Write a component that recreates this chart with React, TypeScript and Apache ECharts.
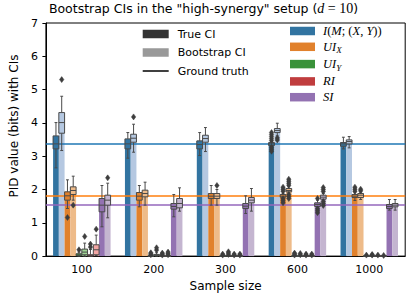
import React, { useEffect, useRef } from 'react';
import * as echarts from 'echarts';

const FONT = 'DejaVu Sans';
const MATH = 'Liberation Serif';

const categories = ['100', '200', '300', '600', '1000'];
const componentNames = ['I(M;(X,Y))', 'UI_X', 'UI_Y', 'RI', 'SI'];
const groundTruth = [3.36, 1.82, 0, 0, 1.53];
const yTicks = [0, 7, 1];

// box statistics per sample size: [low whisker, q1, median, q3, high whisker]
const trueI = [[2.65, 3.22, 3.37, 3.61, 4.01], [2.94, 3.22, 3.37, 3.52, 3.71], [3.02, 3.22, 3.35, 3.46, 3.71], [3.3, 3.32, 3.37, 3.41, 3.44], [3.22, 3.3, 3.37, 3.41, 3.57]];
const bootI = [[3.17, 3.69, 4.01, 4.31, 4.8], [3.12, 3.42, 3.54, 3.66, 3.96], [3.14, 3.42, 3.53, 3.63, 3.86], [3.61, 3.71, 3.77, 3.83, 3.99], [3.25, 3.37, 3.44, 3.49, 3.59]];
const trueUIX = [[1.43, 1.68, 1.81, 1.93, 2.29], [1.48, 1.68, 1.8, 1.91, 2.12], [1.53, 1.73, 1.8, 1.88, 2.12], [1.74, 1.77, 1.8, 1.85, 1.88], [1.67, 1.76, 1.8, 1.85, 1.9]];
const bootUIX = [[1.68, 1.85, 1.97, 2.08, 2.4], [1.53, 1.78, 1.88, 1.98, 2.22], [1.53, 1.73, 1.8, 1.88, 2.0], [1.9, 1.93, 1.97, 2.03, 2.08], [1.7, 1.76, 1.83, 1.88, 1.92]];
const trueUIY = [[0, 0.01, 0.03, 0.07, 0.12], [0, 0, 0, 0.01, 0.02], [0, 0, 0, 0.01, 0.02], [0, 0, 0, 0.01, 0.02], [0, 0, 0, 0.01, 0.02]];
const bootUIY = [[0, 0.04, 0.12, 0.21, 0.39], [0, 0.02, 0.03, 0.05, 0.1], [0, 0, 0.01, 0.02, 0.04], [0, 0, 0, 0.01, 0.02], [0, 0, 0, 0.01, 0.02]];
const trueRI = [[0, 0, 0.01, 0.04, 0.2], [0, 0, 0, 0.01, 0.02], [0, 0, 0, 0.01, 0.02], [0, 0, 0, 0.01, 0.02], [0, 0, 0, 0.01, 0.02]];
const bootRI = [[0.02, 0.04, 0.19, 0.34, 0.63], [0, 0, 0, 0.01, 0.02], [0, 0, 0, 0.01, 0.02], [0, 0, 0, 0.01, 0.02], [0, 0, 0, 0.01, 0.02]];
const trueSI = [[0.88, 1.33, 1.53, 1.73, 2.12], [1.18, 1.41, 1.49, 1.58, 1.85], [1.28, 1.43, 1.5, 1.58, 1.81], [1.47, 1.49, 1.55, 1.6, 1.68], [1.38, 1.43, 1.49, 1.55, 1.7]];
const bootSI = [[1.15, 1.53, 1.68, 1.83, 2.19], [1.35, 1.45, 1.58, 1.73, 2.05], [1.35, 1.6, 1.68, 1.76, 2.03], [1.68, 1.71, 1.77, 1.83, 1.88], [1.38, 1.48, 1.53, 1.58, 1.7]];

// outliers per sample size
const trueIOut = [[], [], [], [3.47, 3.53, 3.59, 3.65, 3.71, 3.27, 3.21, 3.15], []];
const bootIOut = [[5.3], [4.18], [], [3.55, 3.49], []];
const trueUIXOut = [[1.16], [], [], [1.95, 2.01, 2.07, 1.72, 1.66, 1.6], [1.95, 2.01, 2.07]];
const bootUIXOut = [[1.53], [], [2.12], [2.13, 2.19, 2.25, 2.31, 1.85, 1.79, 1.73], [1.96, 2.01]];
const trueUIYOut = [[0.19], [0.04, 0.07, 0.1], [0.03, 0.06], [0.03, 0.06, 0.09], [0.03]];
const bootUIYOut = [[0.59], [0.18, 0.25], [0.05, 0.09, 0.13], [0.04, 0.08], [0.03, 0.05]];
const trueRIOut = [[0.27, 0.36], [0.03, 0.06, 0.09], [0.03, 0.06], [0.03, 0.06], [0.03]];
const bootRIOut = [[0.81], [0.04, 0.08, 0.12], [0.03, 0.06], [0.03, 0.06], [0.02]];
const trueSIOut = [[], [], [], [1.42, 1.36, 1.3, 1.73], []];
const bootSIOut = [[2.35], [], [], [1.94, 2.0, 2.06, 1.64, 1.58, 1.52], []];

const darkColors = ['#3274a1', '#e1812c', '#3a923a', '#c03d3e', '#9372b2'];
const lightColors = ['#b5c8e1', '#eebb89', '#9fd495', '#f2a5a3', '#c4b5d0'];
const lineColors = ['#1f77b4', '#ff7f0e', '#2ca02c', '#d62728', '#9467bd'];

const statsBySlot = [trueI, bootI, trueUIX, bootUIX, trueUIY, bootUIY, trueRI, bootRI, trueSI, bootSI];
const outliersBySlot = [trueIOut, bootIOut, trueUIXOut, bootUIXOut, trueUIYOut, bootUIYOut, trueRIOut, bootRIOut, trueSIOut, bootSIOut];

const slotColor = (slot: number) => (slot % 2 === 0 ? darkColors : lightColors)[Math.floor(slot / 2)];

const legendRich: Record<string, string> = {
  'I(M;(X,Y))': '{m|I}{r|(}{m|M}{r|; (}{m|X}{r|, }{m|Y}{r|))}',
  UI_X: '{m|UI}{s|X}',
  UI_Y: '{m|UI}{s|Y}',
  RI: '{m|RI}',
  SI: '{m|SI}',
};

export default function App() {
  const ref = useRef<HTMLDivElement>(null);
  useEffect(() => {
    if (!ref.current) return;
    const chart = echarts.init(ref.current, undefined, { renderer: 'svg' });

    const boxData: number[][] = [];
    statsBySlot.forEach((stats, slot) => stats.forEach((s, cat) => boxData.push([cat, slot, ...s])));
    const outlierData: number[][] = [];
    outliersBySlot.forEach((outs, slot) =>
      outs.forEach((list, cat) => list.forEach((v) => outlierData.push([cat, slot, v])))
    );

    const slotX = (api: any, cat: number, slot: number) => {
      const band = api.size([1, 0])[0];
      const bw = (band * 0.8) / 10;
      return { cx: api.coord([cat, 0])[0] + (slot - 4.5) * bw, bw };
    };

    const barSeries: any[] = statsBySlot.map((stats, slot) => {
      const c = Math.floor(slot / 2);
      const s: any = {
        type: 'bar',
        name: slot % 2 === 0 ? componentNames[c] : componentNames[c] + ' (bootstrap)',
        data: stats.map((st) => st[3]),
        barGap: '0%',
        barCategoryGap: '20%',
        itemStyle: { color: slotColor(slot) },
        silent: true,
        z: 2,
      };
      if (slot === 0) {
        s.markLine = {
          silent: true,
          symbol: ['none', 'none'],
          label: { show: false },
          z: 5,
          data: groundTruth
            .map((v, i) => ({ v, i }))
            .filter((d) => d.v > 0)
            .map((d) => ({ yAxis: d.v, lineStyle: { color: lineColors[d.i], width: 1.5, type: 'solid' } })),
        };
      }
      return s;
    });

    const option: any = {
      animation: false,
      textStyle: { fontFamily: FONT },
      title: {
        text: 'Bootstrap CIs in the "high-synergy" setup ({m|d}{r| = 10})',
        left: 'center',
        top: 0,
        padding: [1, 0, 0, 31.6],
        textStyle: {
          fontFamily: FONT,
          fontSize: 12.5,
          fontWeight: 'normal',
          color: '#000',
          rich: {
            m: { fontFamily: MATH, fontStyle: 'italic', fontSize: 14, color: '#000' },
            r: { fontFamily: MATH, fontSize: 14, color: '#000' },
          },
        },
      },
      legend: [
        {
          orient: 'vertical',
          left: 142.7,
          top: 27,
          padding: 0,
          itemWidth: 26,
          itemHeight: 8.5,
          itemGap: 4.5,
          selectedMode: false,
          textStyle: { fontFamily: FONT, fontSize: 11, color: '#000', lineHeight: 14, padding: [0, 0, 0, 4] },
          data: [
            { name: 'True CI', icon: 'rect' },
            { name: 'Bootstrap CI', icon: 'rect' },
            { name: 'Ground truth', icon: 'path://M0,0h26v1.5h-26z', itemStyle: { color: '#000' } },
          ],
        },
        {
          orient: 'vertical',
          left: 290,
          top: 24.5,
          padding: 0,
          itemWidth: 25,
          itemHeight: 8.5,
          itemGap: 2.8,
          selectedMode: false,
          icon: 'rect',
          formatter: (name: string) => legendRich[name] || name,
          textStyle: {
            color: '#000',
            padding: [0, 0, 0, 3],
            rich: {
              m: { fontFamily: MATH, fontStyle: 'italic', fontSize: 12.5, lineHeight: 16, color: '#000' },
              r: { fontFamily: MATH, fontSize: 12.5, lineHeight: 16, color: '#000' },
              s: { fontFamily: MATH, fontStyle: 'italic', fontSize: 9, lineHeight: 10, verticalAlign: 'bottom', color: '#000' },
            },
          },
          data: componentNames,
        },
      ],
      grid: {
        left: 33.4,
        right: 1.8,
        top: 23,
        bottom: 38.7,
        show: true,
        borderColor: '#000',
        borderWidth: 1,
        backgroundColor: 'transparent',
      },
      xAxis: {
        type: 'category',
        data: categories,
        name: 'Sample size',
        nameLocation: 'middle',
        nameGap: 23,
        nameTextStyle: { fontFamily: FONT, fontSize: 12, color: '#000' },
        axisLine: { lineStyle: { color: '#000', width: 1 } },
        axisTick: { alignWithLabel: true, length: 3.5, lineStyle: { color: '#000', width: 1 } },
        axisLabel: { fontFamily: FONT, fontSize: 11, color: '#000', margin: 8, interval: 0 },
        splitLine: { show: false },
      },
      yAxis: {
        type: 'value',
        min: yTicks[0],
        max: yTicks[1],
        interval: yTicks[2],
        name: 'PID value (bits) with CIs',
        nameLocation: 'middle',
        nameGap: 24,
        nameRotate: 90,
        nameTextStyle: { fontFamily: FONT, fontSize: 12, color: '#000', padding: [0, 0, 0, 27] },
        axisLine: { show: true, lineStyle: { color: '#000', width: 1 } },
        axisTick: { show: true, length: 3.5, lineStyle: { color: '#000', width: 1 } },
        axisLabel: { fontFamily: FONT, fontSize: 11, color: '#000', margin: 8 },
        splitLine: { show: false },
      },
      series: [
        ...barSeries,
        {
          type: 'custom',
          name: 'boxes',
          z: 10,
          silent: true,
          data: boxData,
          encode: { x: 0, y: [2, 3, 4, 5, 6] },
          renderItem: (params: any, api: any) => {
            const cat = api.value(0);
            const slot = api.value(1);
            const { cx, bw } = slotX(api, cat, slot);
            const y = (i: number) => api.coord([cat, api.value(i)])[1];
            const lo = y(2), q1 = y(3), md = y(4), q3 = y(5), hi = y(6);
            const half = bw / 2;
            const cap = bw / 4;
            const ls = { stroke: '#4a4a4a', lineWidth: 1 };
            return {
              type: 'group',
              children: [
                { type: 'line', shape: { x1: cx, y1: lo, x2: cx, y2: q1 }, style: ls },
                { type: 'line', shape: { x1: cx, y1: q3, x2: cx, y2: hi }, style: ls },
                { type: 'line', shape: { x1: cx - cap, y1: lo, x2: cx + cap, y2: lo }, style: ls },
                { type: 'line', shape: { x1: cx - cap, y1: hi, x2: cx + cap, y2: hi }, style: ls },
                {
                  type: 'rect',
                  shape: { x: cx - half, y: q3, width: bw, height: Math.max(q1 - q3, 0.5) },
                  style: { fill: slotColor(slot), stroke: '#4a4a4a', lineWidth: 1 },
                },
                { type: 'line', shape: { x1: cx - half, y1: md, x2: cx + half, y2: md }, style: ls },
              ],
            };
          },
        },
        {
          type: 'custom',
          name: 'outliers',
          z: 11,
          silent: true,
          data: outlierData,
          encode: { x: 0, y: 2 },
          renderItem: (params: any, api: any) => {
            const cat = api.value(0);
            const slot = api.value(1);
            const { cx } = slotX(api, cat, slot);
            const cy = api.coord([cat, api.value(2)])[1];
            return {
              type: 'polygon',
              shape: { points: [[cx, cy - 3], [cx + 2.2, cy], [cx, cy + 3], [cx - 2.2, cy]] },
              style: { fill: '#3d3d3d', stroke: '#3d3d3d', lineWidth: 0.5 },
            };
          },
        },
        { type: 'scatter', name: 'True CI', data: [], itemStyle: { color: '#000000' } },
        { type: 'scatter', name: 'Bootstrap CI', data: [], itemStyle: { color: '#808080' } },
        {
          type: 'line',
          name: 'Ground truth',
          data: [],
          symbol: 'none',
          itemStyle: { color: '#000000' },
          lineStyle: { color: '#000000', width: 1.5 },
        },
      ],
    };

    chart.setOption(option);
    return () => chart.dispose();
  }, []);

  return <div ref={ref} style={{ position: 'absolute', left: 0, top: 0, width: 407, height: 297 }} />;
}
